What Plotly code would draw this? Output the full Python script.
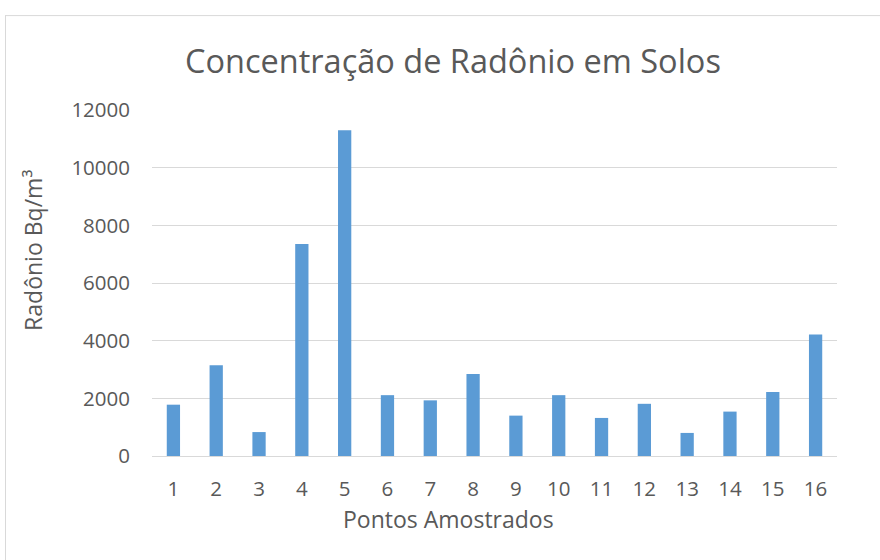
import plotly.graph_objects as go

categories = [str(i) for i in range(1, 17)]
radon = [1780, 3150, 830, 7350, 11300, 2110, 1930, 2840, 1400, 2110, 1320, 1810, 800, 1540, 2220, 4210]
y_ticks = [0, 2000, 4000, 6000, 8000, 10000, 12000]
y_tick_labels = ["0", "2000", "4000", "6000", "8000", "10000", "12000"]

title_text = "Concentração de Radônio em Solos"
y_title = "Radônio Bq/m³"
x_title = "Pontos Amostrados"

FONT = "Open Sans"
GREY = "#595959"

OFF = 0  # body margin removed via post_script
W, H = 880, 560
# target screen positions of the plot area
SL, SR, ST, SB = 152, 837, 110, 456.3
L, T = SL - OFF, ST - OFF
R = W - (SR - OFF)
B = H - (SB - OFF)
pw, ph = W - L - R, H - T - B

def px_x(x):
    return (x - OFF - L) / pw

def px_y(y):
    return (H - B - (y - OFF)) / ph

fig = go.Figure(go.Bar(x=categories, y=radon, marker=dict(color="#5B9BD5", line=dict(width=0)),
                       hoverinfo="skip"))

fig.update_layout(
    width=W, height=H,
    margin=dict(l=L, r=R, t=T, b=B, pad=0),
    paper_bgcolor="white", plot_bgcolor="white",
    bargap=0.69,
    showlegend=False,
    font=dict(family=FONT, color=GREY),
    xaxis=dict(type="category", showgrid=False, showline=True, linecolor="#D9D9D9", linewidth=1,
               ticks="", tickfont=dict(size=20.5, color=GREY), ticklabelstandoff=14, zeroline=False),
    yaxis=dict(range=[0, 12000], tickvals=y_ticks, ticktext=y_tick_labels, showgrid=True,
               gridcolor="#D9D9D9", gridwidth=1,
               showline=False, zeroline=False, ticks="", tickfont=dict(size=20.5, color=GREY),
               ticklabelstandoff=21),
    annotations=[
        dict(text=title_text, x=px_x(452.5), y=px_y(60), xref="paper", yref="paper", showarrow=False,
             xanchor="center", yanchor="middle", font=dict(size=32.5, color=GREY, family=FONT)),
        dict(text=y_title, x=px_x(33), y=px_y(251), xref="paper", yref="paper", showarrow=False,
             xanchor="center", yanchor="middle", textangle=-90, font=dict(size=23, color=GREY, family=FONT)),
        dict(text=x_title, x=px_x(448), y=px_y(519), xref="paper", yref="paper", showarrow=False,
             xanchor="center", yanchor="middle", font=dict(size=23, color=GREY, family=FONT)),
    ],
    shapes=[
        dict(type="line", xref="paper", yref="paper", x0=px_x(5), x1=px_x(900), y0=px_y(15.5), y1=px_y(15.5),
             line=dict(color="#D9D9D9", width=1)),
        dict(type="line", xref="paper", yref="paper", x0=px_x(5.5), x1=px_x(5.5), y0=px_y(15), y1=px_y(600),
             line=dict(color="#D9D9D9", width=1)),
    ],
)

fig.write_html("out.html", config={"displayModeBar": False},
               post_script="document.body.style.margin='0';document.body.style.overflow='hidden';")
